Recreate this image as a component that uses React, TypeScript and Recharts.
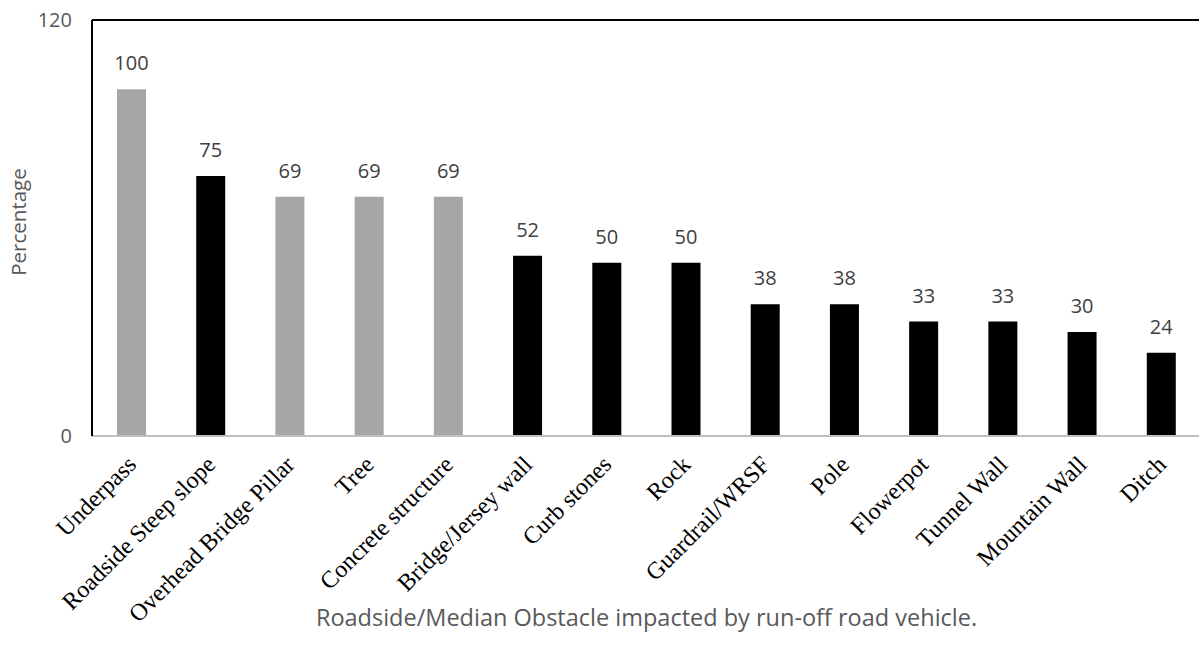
import { BarChart, Bar, XAxis, YAxis, LabelList, Cell, Label, ReferenceLine } from "recharts";

const obstacles = [
  "Underpass",
  "Roadside Steep slope",
  "Overhead Bridge Pillar",
  "Tree",
  "Concrete structure",
  "Bridge/Jersey wall",
  "Curb stones",
  "Rock",
  "Guardrail/WRSF",
  "Pole",
  "Flowerpot",
  "Tunnel Wall",
  "Mountain Wall",
  "Ditch",
];
const percentages = [100, 75, 69, 69, 69, 52, 50, 50, 38, 38, 33, 33, 30, 24];
// gray bars in the original highlight a group
const highlighted = [true, false, true, true, true, false, false, false, false, false, false, false, false, false];
const yTicks = [0, 120];

const data = obstacles.map((name, i) => ({
  name,
  value: percentages[i],
  gray: highlighted[i],
}));

const sans = "'Open Sans', 'Noto Sans', sans-serif";

const SlantTick = (props: any) => {
  const { x, y, payload } = props;
  return (
    <text
      x={x + 6}
      y={y + 22}
      transform={`rotate(-45, ${x + 6}, ${y + 22})`}
      textAnchor="end"
      fontFamily="'Liberation Serif', serif"
      fontSize={24}
      fill="#000"
    >
      {payload.value}
    </text>
  );
};

export default function App() {
  return (
    <div style={{ position: "absolute", left: 0, top: 0, width: 1199, height: 660, overflow: "hidden", background: "#fff" }}>
      <BarChart
        width={1201}
        height={660}
        data={data}
        margin={{ top: 20, right: 0, left: 32, bottom: 0 }}
        barCategoryGap={0}
      >
        <XAxis
          dataKey="name"
          interval={0}
          tick={<SlantTick />}
          tickLine={false}
          axisLine={{ stroke: "#bfbfbf", strokeWidth: 2 }}
          height={224}
        >
          <Label
            value="Roadside/Median Obstacle impacted by run-off road vehicle."
            position="insideBottom"
            offset={34}
            style={{ fontFamily: sans, fontSize: 23.5, fill: "#595959" }}
          />
        </XAxis>
        <YAxis
          domain={[0, 120]}
          ticks={yTicks}
          width={60}
          tickLine={false}
          axisLine={{ stroke: "#000", strokeWidth: 2 }}
          tick={{ fontFamily: sans, fontSize: 20, fill: "#595959" }}
          tickMargin={14}
        >
          <Label
            content={({ viewBox }: any) => {
              const cx = viewBox.x - 14;
              const cy = viewBox.y + viewBox.height / 2 - 6;
              return (
                <text
                  x={cx}
                  y={cy}
                  transform={`rotate(-90, ${cx}, ${cy})`}
                  textAnchor="middle"
                  dominantBaseline="central"
                  fontFamily={sans}
                  fontSize={20.5}
                  fill="#595959"
                >
                  Percentage
                </text>
              );
            }}
          />
        </YAxis>
        <ReferenceLine y={120} stroke="#000" strokeWidth={2} />
        <Bar dataKey="value" barSize={29} isAnimationActive={false}>
          {data.map((d) => (
            <Cell key={d.name} fill={d.gray ? "#a6a6a6" : "#000"} />
          ))}
          <LabelList
            dataKey="value"
            position="top"
            offset={19}
            style={{ fontFamily: sans, fontSize: 20, fill: "#404040" }}
          />
        </Bar>
      </BarChart>
    </div>
  );
}
